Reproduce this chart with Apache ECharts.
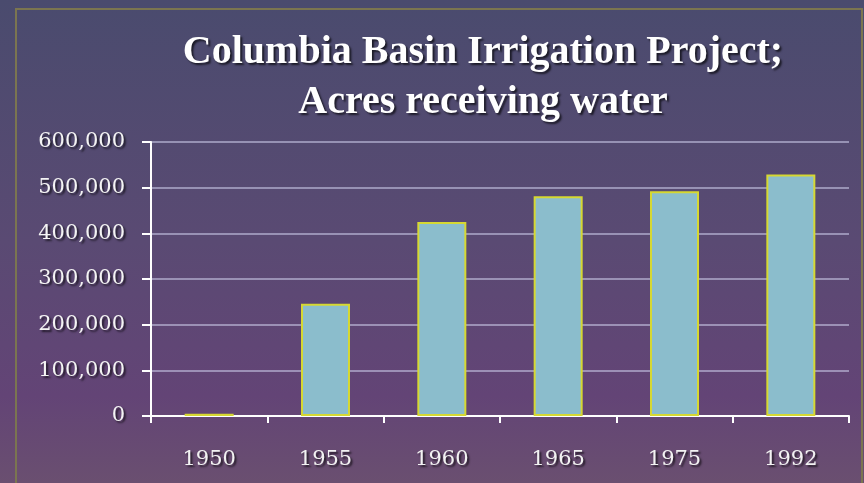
<!DOCTYPE html>
<html>
<head>
<meta charset="utf-8">
<script src="https://cdn.jsdelivr.net/npm/echarts@6/dist/echarts.min.js"></script>
<style>
  html, body { margin: 0; padding: 0; }
  #chart { width: 864px; height: 483px; }
</style>
</head>
<body>
<div id="chart"></div>
<script>
// acres receiving water
const years = ['1950', '1955', '1960', '1965', '1975', '1992'];
const acres = [5000, 246000, 425000, 481000, 492000, 529000];
const yTicks = [0, 100000, 200000, 300000, 400000, 500000, 600000];
const titleLines = ['Columbia Basin Irrigation Project;', 'Acres receiving water'];

const shadow = {
  textShadowColor: 'rgba(0, 0, 0, 0.65)',
  textShadowBlur: 2,
  textShadowOffsetX: 2,
  textShadowOffsetY: 2,
};

const titleText = (text, y) => ({
  type: 'text',
  x: 483,
  y: y,
  silent: true,
  style: {
    text: text,
    align: 'center',
    verticalAlign: 'middle',
    fontFamily: 'Liberation Serif',
    fontWeight: 'bold',
    fontSize: 40,
    fill: '#ffffff',
    textShadowColor: 'rgba(0, 0, 0, 0.65)',
    textShadowBlur: 2,
    textShadowOffsetX: 2,
    textShadowOffsetY: 2,
  },
});

const option = {
  backgroundColor: {
    type: 'linear',
    x: 0, y: 0, x2: 0, y2: 1,
    colorStops: [
      { offset: 0, color: '#4a4b6e' },
      { offset: 0.5, color: '#5a4a73' },
      { offset: 0.82, color: '#634476' },
      { offset: 1, color: '#6a4f70' },
    ],
  },
  graphic: [
    {
      type: 'rect',
      shape: { x: 16, y: 9, width: 846, height: 500 },
      style: { fill: 'none', stroke: '#7b7550', lineWidth: 2 },
      silent: true,
    },
    titleText(titleLines[0], 53),
    titleText(titleLines[1], 103),
  ],
  grid: { left: 151, right: 15, top: 142, bottom: 67 },
  xAxis: {
    type: 'category',
    data: years,
    axisLine: { lineStyle: { color: '#ffffff', width: 2 } },
    axisTick: { show: true, length: 7, lineStyle: { color: '#ffffff', width: 2 } },
    axisLabel: {
      margin: 33,
      fontFamily: 'DejaVu Serif',
      fontSize: 21,
      color: '#f2f2f2',
      ...shadow,
    },
  },
  yAxis: {
    type: 'value',
    min: yTicks[0],
    max: yTicks[yTicks.length - 1],
    interval: 100000,
    axisLine: { show: true, lineStyle: { color: '#ffffff', width: 2 } },
    axisTick: { show: true, length: 9, lineStyle: { color: '#ffffff', width: 2 } },
    splitLine: { lineStyle: { color: 'rgba(205, 205, 235, 0.55)', width: 2 } },
    axisLabel: {
      margin: 26,
      fontFamily: 'DejaVu Serif',
      fontSize: 21,
      color: '#f4f4f4',
      formatter: v => v.toLocaleString('en-US'),
      ...shadow,
    },
  },
  series: [
    {
      type: 'bar',
      data: acres,
      barWidth: 49,
      itemStyle: {
        color: '#8bbdcc',
        borderColor: '#d6d832',
        borderWidth: 2,
      },
    },
  ],
};

const chart = echarts.init(document.getElementById('chart'));
chart.setOption(option);
</script>
</body>
</html>
